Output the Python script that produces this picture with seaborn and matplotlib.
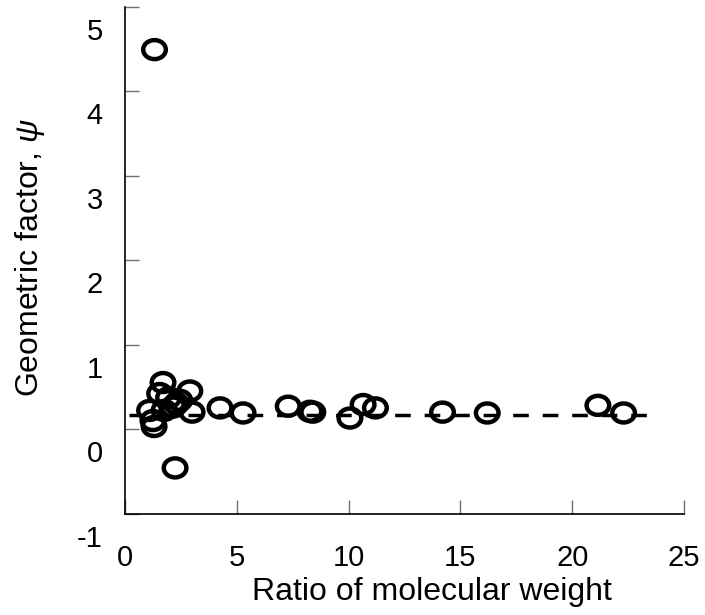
import matplotlib
matplotlib.use("Agg")
import matplotlib.pyplot as plt
import matplotlib.transforms as mtransforms
from matplotlib.path import Path
import seaborn as sb
import pandas as pd

# values
ratio_mw = [1.32, 2.24, 1.70, 1.55, 2.90, 1.10, 1.30, 1.25, 2.45, 2.15, 3.00, 1.75, 1.95, 2.30,
            4.25, 5.28, 7.30, 8.27, 8.40, 10.06, 10.65, 11.20, 14.20, 16.20, 21.15, 22.30]
psi = [4.49, -0.46, 0.55, 0.42, 0.45, 0.22, 0.03, 0.10, 0.34, 0.26, 0.20, 0.22, 0.37, 0.30,
       0.25, 0.19, 0.27, 0.21, 0.20, 0.13, 0.29, 0.25, 0.20, 0.19, 0.28, 0.19]
fit_x = [0.2, 23.4]
fit_y = [0.17, 0.17]
x_ticks = [0, 5, 10, 15, 20, 25]
y_ticks = [-1, 0, 1, 2, 3, 4, 5]

df = pd.DataFrame({'ratio': ratio_mw, 'psi': psi})
fit = pd.DataFrame({'ratio': fit_x, 'psi': fit_y})

sb.set_style('white')
plt.rcParams['font.family'] = ['Liberation Sans', 'DejaVu Sans']
plt.rcParams['mathtext.fontset'] = 'custom'
plt.rcParams['mathtext.it'] = 'Liberation Sans:italic'
plt.rcParams['mathtext.rm'] = 'Liberation Sans'

fig = plt.figure(figsize=(7.05, 6.15), dpi=100)
ax = fig.add_axes([0.1773, 0.165, 0.9702 - 0.1773, 0.9894 - 0.165])

# slightly flattened open circle
ellipse = Path.unit_circle().transformed(mtransforms.Affine2D().scale(1.0, 0.84))

sb.lineplot(data=fit, x='ratio', y='psi', ax=ax, color='black', linewidth=2.5,
            dashes=(4.5, 4.0))
sb.scatterplot(data=df, x='ratio', y='psi', ax=ax, marker=ellipse, s=265,
               facecolor='none', edgecolor='black', linewidth=3.2, zorder=3)

ax.set_xlim(0, 25)
ax.set_ylim(-1, 5)
ax.set_xticks(x_ticks)
ax.set_yticks(y_ticks)
ax.set_xticklabels([str(t) for t in x_ticks])
ax.set_yticklabels([str(t) for t in y_ticks])

for side in ['top', 'right']:
    ax.spines[side].set_visible(False)
for side in ['left', 'bottom']:
    ax.spines[side].set_color('black')
    ax.spines[side].set_linewidth(1.2)

ax.tick_params(axis='both', direction='in', length=10, width=1, color='#707070',
               labelsize=21, labelcolor='black', bottom=True, left=True)
ax.tick_params(axis='y', pad=16)
ax.tick_params(axis='x', pad=22)

# y tick labels sit a bit below their ticks in the original
offset = mtransforms.ScaledTranslation(0, -0.22, fig.dpi_scale_trans)
for lab in ax.get_yticklabels():
    lab.set_transform(lab.get_transform() + offset)

ax.set_xlabel('Ratio of molecular weight', fontsize=23, color='black')
ax.set_ylabel('Geometric factor, $\\mathit{\\psi}$', fontsize=23, color='black')
ax.xaxis.set_label_coords(0.549, -0.125)
ax.yaxis.set_label_coords(-0.14, 0.504)

plt.savefig('out.png', dpi=100)
